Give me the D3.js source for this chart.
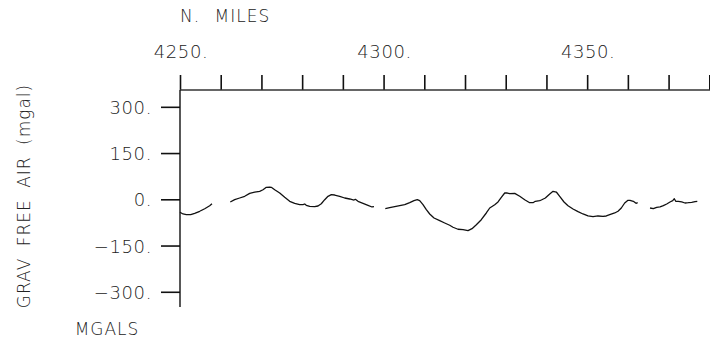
<!DOCTYPE html>
<html>
<head>
<meta charset="utf-8">
<script src="https://cdn.jsdelivr.net/npm/d3@7"></script>
<style>
  html, body { margin: 0; padding: 0; background: #fff; }
  svg text { font-family: "DejaVu Sans", sans-serif; font-weight: 200; fill: #222; }
</style>
</head>
<body>
<svg id="chart" width="710" height="345"></svg>
<script>
// ---- data (null = gap in the track) ----
const miles = [
  4250.0, 4250.74, 4251.55, 4252.63, 4253.61, 4254.84, 4256.07, 4257.29, 4257.86, null,
  4262.35, 4263.43, 4264.66, 4265.89, 4267.12, 4268.35, 4269.57, 4270.39, 4271.20, 4272.03,
  4272.42, 4273.26, 4274.49, 4275.72, 4276.94, 4278.17, 4279.40, 4280.21, 4280.63, 4281.02,
  4281.86, 4283.08, 4283.89, 4284.70, 4285.54, 4286.35, 4287.16, 4287.99, 4289.22, 4290.45,
  4291.68, 4292.74, 4293.06, 4293.72, 4294.95, 4296.17, 4297.16, 4297.65, null,
  4300.42, 4301.50, 4302.73, 4303.96, 4305.19, 4306.42, 4307.47, 4308.28, 4308.87, 4309.68,
  4310.50, 4311.33, 4312.39, 4313.79, 4315.01, 4316.24, 4317.05, 4318.28, 4319.51, 4320.74,
  4321.72, 4322.78, 4324.00, 4325.23, 4326.07, 4327.30, 4328.11, 4328.92, 4329.75, 4330.39,
  4330.98, 4332.21, 4333.44, 4334.66, 4335.89, 4336.70, 4337.27, 4338.35, 4338.74, 4339.73,
  4340.81, 4341.62, 4342.43, 4343.26, 4344.32, 4345.30, 4346.53, 4347.76, 4348.98, 4350.21,
  4351.44, 4352.67, 4353.90, 4354.70, 4355.54, 4356.77, 4357.58, 4358.39, 4359.22, 4360.03,
  4360.52, 4361.34, 4362.00, 4362.41, null,
  4365.44, 4366.25, 4367.08, 4367.90, 4368.71, 4369.54, 4370.35, 4371.02, 4371.41, 4371.75,
  4372.39, 4373.22, 4374.03, 4374.84, 4375.68, 4376.49, 4377.05
];
const gravFreeAir = [
  -42.1, -47.6, -49.9, -49.9, -45.4, -38.9, -30.5, -20.7, -14.3, null,
  -8.7, -1.3, 4.2, 9.7, 19.4, 23.6, 25.9, 31.1, 38.9, 39.8,
  38.9, 31.1, 20.4, 6.5, -6.5, -13.0, -17.5, -17.5, -15.2, -19.4,
  -22.7, -24.0, -21.7, -14.3, -1.3, 9.7, 14.9, 13.9, 9.7, 4.2,
  1.0, -2.3, 0.0, -6.5, -13.0, -19.4, -24.9, -24.0, null,
  -30.5, -27.2, -24.0, -20.7, -17.5, -11.0, -4.5, -1.3, -4.5, -17.5,
  -33.7, -47.6, -60.6, -69.3, -76.8, -84.2, -90.7, -97.2, -98.5, -101.7,
  -95.2, -82.3, -66.1, -44.4, -28.2, -17.5, -8.7, 6.5, 20.4, 20.4,
  18.1, 19.4, 9.7, -1.3, -11.0, -11.0, -6.5, -4.5, -2.3, 4.2,
  17.2, 25.9, 23.6, 9.7, -8.7, -20.7, -31.4, -40.2, -47.6, -54.1,
  -56.4, -54.1, -55.1, -54.1, -49.9, -44.4, -38.9, -28.2, -12.0, -3.2,
  -3.2, -6.5, -13.0, -11.0, null,
  -28.2, -30.5, -25.9, -24.9, -20.7, -15.2, -8.7, -4.5, 1.9, -6.5,
  -6.5, -8.7, -12.0, -11.0, -9.7, -7.8, -6.5
];
const xMajorTicks = [4250, 4300, 4350];
const xMinorTicks = [4250, 4260, 4270, 4280, 4290, 4300, 4310, 4320, 4330, 4340, 4350, 4360, 4370, 4380];
const yTicks = [300, 150, 0, -150, -300];
const xTitle = "N. MILES";
const yTitle = "GRAV FREE AIR (mgal)";
const unitLabel = "MGALS";

// ---- layout ----
const svg = d3.select("#chart");
const x = d3.scaleLinear().domain([4250, 4380]).range([180, 709.3]);
const y = d3.scaleLinear().domain([-350, 350]).range([307.2, 91.4]);
const topY = 90, leftX = 180, bottomY = 307;

// top axis: long ticks above the line
const topAxis = d3.axisTop(x).tickValues(xMinorTicks).tickSize(15).tickFormat("");
const gTop = svg.append("g").attr("transform", `translate(0,${topY})`).call(topAxis);
gTop.select(".domain").remove();
gTop.selectAll(".tick line").attr("stroke", "#111").attr("stroke-width", 1.6);
svg.append("line").attr("x1", leftX).attr("x2", 710).attr("y1", topY).attr("y2", topY)
  .attr("stroke", "#333").attr("stroke-width", 1.3);

// top labels
svg.append("g").selectAll("text").data(xMajorTicks).join("text")
  .attr("x", d => x(d) + 1).attr("y", 58)
  .attr("text-anchor", "middle").attr("font-size", 18).attr("letter-spacing", 0.6)
  .text(d => d + ".");

// left axis
const leftAxis = d3.axisLeft(y).tickValues(yTicks).tickSize(19).tickFormat("");
const gLeft = svg.append("g").attr("transform", `translate(${leftX},0)`).call(leftAxis);
gLeft.select(".domain").remove();
gLeft.selectAll(".tick line").attr("stroke", "#111").attr("stroke-width", 1.6);
svg.append("line").attr("x1", leftX).attr("x2", leftX).attr("y1", topY).attr("y2", bottomY)
  .attr("stroke", "#111").attr("stroke-width", 1.4);

svg.append("g").selectAll("text").data(yTicks).join("text")
  .attr("x", 152).attr("y", d => y(d) + 7)
  .attr("text-anchor", "end").attr("font-size", 18).attr("letter-spacing", 0.6)
  .text(d => (d < 0 ? "\u2212" + Math.abs(d) : d) + ".");

// titles
svg.append("text").attr("x", 180).attr("y", 22).attr("font-size", 17)
  .attr("letter-spacing", 1).attr("word-spacing", 8).text(xTitle);
svg.append("text").attr("transform", "translate(30,196) rotate(-90)")
  .attr("text-anchor", "middle").attr("font-size", 17)
  .attr("letter-spacing", 1).attr("word-spacing", 5).text(yTitle);
svg.append("text").attr("x", 107).attr("y", 335).attr("text-anchor", "middle")
  .attr("font-size", 17).attr("letter-spacing", 1).text(unitLabel);

// data line
const pts = miles.map((m, i) => [m, gravFreeAir[i]]);
const line = d3.line()
  .defined(d => d[0] !== null && d[1] !== null)
  .x(d => x(d[0])).y(d => y(d[1]))
  .curve(d3.curveLinear);
svg.append("path").datum(pts).attr("d", line)
  .attr("fill", "none").attr("stroke", "#111").attr("stroke-width", 1.3)
  .attr("stroke-linejoin", "round");
</script>
</body>
</html>
